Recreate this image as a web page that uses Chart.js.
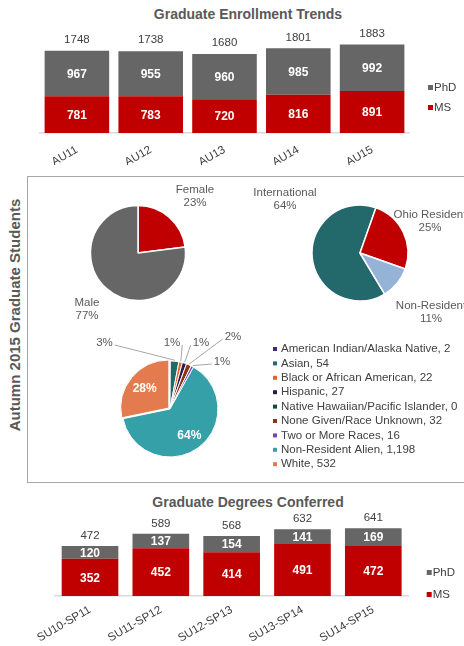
<!DOCTYPE html>
<html>
<head>
<meta charset="utf-8">
<script src="https://cdn.jsdelivr.net/npm/chart.js@4.4.0/dist/chart.umd.min.js"></script>
<style>
  html, body { margin: 0; padding: 0; width: 464px; height: 646px; overflow: hidden; background: #fff; }
  body { position: relative; font-family: "Liberation Sans", Arial, Helvetica, sans-serif; }
  canvas { position: absolute; }
  .title { position: absolute; left: 0; width: 496px; text-align: center; font-weight: bold; font-size: 14px; line-height: 16px; color: #595959; }
  .box { position: absolute; left: 27px; top: 176px; width: 470px; height: 307px; box-sizing: border-box; border: 1px solid #a6a6a6; }
  .vtitle { position: absolute; left: -135px; top: 305px; width: 300px; height: 20px; line-height: 20px; text-align: center;
            font-weight: bold; font-size: 15px; color: #595959; transform: rotate(-90deg); }
</style>
</head>
<body>
<div class="box"></div>
<div class="vtitle">Autumn 2015 Graduate Students</div>
<div class="title" style="top:6px">Graduate Enrollment Trends</div>
<div class="title" style="top:494px">Graduate Degrees Conferred</div>

<canvas id="enroll" width="464" height="165" style="left:0;top:0"></canvas>
<canvas id="gender" width="180" height="180" style="left:48px;top:163px"></canvas>
<canvas id="residency" width="240" height="240" style="left:240px;top:133px"></canvas>
<canvas id="race" width="436" height="150" style="left:28px;top:330px"></canvas>
<canvas id="degrees" width="464" height="166" style="left:0;top:480px"></canvas>

<script>
// Data
const terms = ['AU11', 'AU12', 'AU13', 'AU14', 'AU15'];
const enrollPhD = [967, 955, 960, 985, 992];
const enrollMS = [781, 783, 720, 816, 891];

const years = ['SU10-SP11', 'SU11-SP12', 'SU12-SP13', 'SU13-SP14', 'SU14-SP15'];
const degreesPhD = [120, 137, 154, 141, 169];
const degreesMS = [352, 452, 414, 491, 472];

const genderLabels = ['Female', 'Male'];
const genderPct = [23, 77];

const residencyLabels = ['International', 'Ohio Resident', 'Non-Resident'];
const residencyPct = [64, 25, 11];

const raceLabels = ['American Indian/Alaska Native', 'Asian', 'Black or African American', 'Hispanic',
  'Native Hawaiian/Pacific Islander', 'None Given/Race Unknown', 'Two or More Races',
  'Non-Resident Alien', 'White'];
const raceCounts = [2, 54, 22, 27, 0, 32, 16, 1198, 532];

const FONT = '"Liberation Sans", Arial, Helvetica, sans-serif';
const RED = '#c00000';
const GRAY = '#666666';
const TEXT = '#404040';
Chart.defaults.font.family = FONT;

// Value labels, totals and a small legend for the stacked bars
const stackLabels = {
  id: 'stackLabels',
  afterDatasetsDraw(chart, args, o) {
    const ctx = chart.ctx;
    const sets = chart.data.datasets;
    ctx.save();
    ctx.textAlign = 'center';
    ctx.textBaseline = 'middle';
    ctx.font = 'bold 12px ' + FONT;
    ctx.fillStyle = '#fff';
    sets.forEach((ds, i) => {
      chart.getDatasetMeta(i).data.forEach((bar, j) => {
        ctx.fillText(ds.data[j], bar.x, (bar.y + bar.base) / 2 + 1);
      });
    });
    ctx.font = '11.5px ' + FONT;
    ctx.fillStyle = TEXT;
    chart.getDatasetMeta(sets.length - 1).data.forEach((bar, j) => {
      const total = sets.reduce((s, d) => s + d.data[j], 0);
      ctx.fillText(total, bar.x, bar.y - o.totalGap);
    });
    // legend, top dataset first
    ctx.textAlign = 'left';
    const area = chart.chartArea;
    sets.slice().reverse().forEach((ds, k) => {
      const y = area.top + o.legendY + k * o.legendGap;
      const x = area.right + o.legendX;
      ctx.fillStyle = ds.backgroundColor;
      ctx.fillRect(x, y - 3, 5, 5);
      ctx.fillStyle = TEXT;
      ctx.fillText(ds.label, x + 6, y);
    });
    ctx.restore();
  }
};

function stackedBars(id, labels, ms, phd, cfg) {
  return new Chart(document.getElementById(id), {
    type: 'bar',
    data: {
      labels: labels,
      datasets: [
        { label: 'MS', data: ms, backgroundColor: RED },
        { label: 'PhD', data: phd, backgroundColor: GRAY }
      ]
    },
    options: {
      responsive: false,
      animation: false,
      layout: { padding: cfg.padding },
      datasets: { bar: { barPercentage: cfg.barPct, categoryPercentage: 1 } },
      plugins: {
        legend: { display: false },
        tooltip: { enabled: false },
        stackLabels: cfg.labels
      },
      scales: {
        x: {
          stacked: true,
          grid: { display: false, drawTicks: false },
          border: { display: true, color: '#d9d9d9', width: 1.5 },
          ticks: { color: TEXT, font: { size: 11.5 }, minRotation: 30, maxRotation: 30, autoSkip: false, padding: cfg.tickPad },
          afterFit: s => { s.height = cfg.axisHeight; }
        },
        y: { stacked: true, display: false, min: 0, max: cfg.max }
      }
    },
    plugins: [stackLabels]
  });
}

stackedBars('enroll', terms, enrollMS, enrollPhD, {
  padding: { left: 40, right: 55, top: 39, bottom: 0 },
  barPct: 0.875, axisHeight: 32, tickPad: 10, max: 2000,
  labels: { totalGap: 11, legendX: 19, legendY: 49, legendGap: 20 }
});

stackedBars('degrees', years, degreesMS, degreesPhD, {
  padding: { left: 54.6, right: 55.3, top: 42, bottom: 0 },
  barPct: 0.8, axisHeight: 50, tickPad: 7, max: 700,
  labels: { totalGap: 10, legendX: 18, legendY: 51, legendGap: 22 }
});

// Labels for the pies: outside text with optional leader lines, or inside percentages
const pieLabels = {
  id: 'pieLabels',
  afterDatasetsDraw(chart, args, o) {
    const ctx = chart.ctx;
    const meta = chart.getDatasetMeta(0);
    const data = chart.data.datasets[0].data;
    const total = data.reduce((a, b) => a + b, 0);
    ctx.save();
    ctx.textAlign = 'center';
    ctx.textBaseline = 'middle';
    o.items.forEach(it => {
      const arc = meta.data[it.i];
      const mid = (arc.startAngle + arc.endAngle) / 2;
      const pct = Math.round(data[it.i] / total * 100) + '%';
      if (it.inside) {
        const r = arc.outerRadius * 0.68;
        ctx.font = 'bold 12px ' + FONT;
        ctx.fillStyle = '#fff';
        ctx.fillText(pct, arc.x + Math.cos(mid) * r, arc.y + Math.sin(mid) * r);
        return;
      }
      const lx = arc.x + it.dx, ly = arc.y + it.dy;
      ctx.font = '11.5px ' + FONT;
      ctx.fillStyle = '#595959';
      if (o.withName) {
        ctx.fillText(chart.data.labels[it.i], lx, ly - 6.5);
        ctx.fillText(pct, lx, ly + 6.5);
      } else {
        ctx.fillText(pct, lx, ly);
      }
      if (it.leader) {
        const ax = arc.x + Math.cos(mid) * (arc.outerRadius + 1);
        const ay = arc.y + Math.sin(mid) * (arc.outerRadius + 1);
        const w = ctx.measureText(pct).width;
        let ex, ey;
        if (Math.abs(lx - ax) < 8) { ex = lx; ey = ly + 7; }
        else if (lx < ax) { ex = lx + w / 2 + 2; ey = ly + 2; }
        else { ex = lx - w / 2 - 2; ey = ly + 2; }
        ctx.strokeStyle = '#a6a6a6';
        ctx.lineWidth = 1;
        ctx.beginPath();
        ctx.moveTo(ax, ay);
        ctx.lineTo(ex, ey);
        ctx.stroke();
      }
    });
    if (o.legend) {
      const L = o.legend;
      ctx.textAlign = 'left';
      ctx.font = '11.5px ' + FONT;
      chart.data.labels.forEach((name, i) => {
        const y = L.y + i * L.gap;
        ctx.fillStyle = chart.data.datasets[0].backgroundColor[i];
        ctx.fillRect(L.x, y - 2, 4, 4);
        ctx.fillStyle = TEXT;
        ctx.fillText(name + ', ' + data[i].toLocaleString('en-US'), L.x + 8, y);
      });
    }
    ctx.restore();
  }
};

function pie(id, labels, values, colors, cfg) {
  return new Chart(document.getElementById(id), {
    type: 'pie',
    data: {
      labels: labels,
      datasets: [{ data: values, backgroundColor: colors, borderColor: '#fff', borderWidth: cfg.border, offset: cfg.offset || 0 }]
    },
    options: {
      responsive: false,
      animation: false,
      radius: cfg.radius,
      rotation: cfg.rotation,
      layout: { padding: cfg.padding },
      plugins: { legend: { display: false }, tooltip: { enabled: false }, pieLabels: cfg.labels }
    },
    plugins: [pieLabels]
  });
}

pie('gender', genderLabels, genderPct, [RED, GRAY], {
  radius: 47.5, rotation: 0, border: 1.5, padding: 42,
  labels: { withName: true, items: [{ i: 0, dx: 57, dy: -56.5 }, { i: 1, dx: -51, dy: 56.5 }] }
});

pie('residency', residencyLabels, residencyPct, ['#23686b', RED, '#95b3d7'], {
  radius: 48, rotation: 149, border: 1.5, padding: 72,
  labels: { withName: true, items: [
    { i: 0, dx: -75, dy: -53.5 }, { i: 1, dx: 70, dy: -32 }, { i: 2, dx: 71, dy: 59 }
  ] }
});

pie('race', raceLabels, raceCounts,
  ['#43277f', '#1f6b68', '#e5622a', '#2e1a4f', '#0e4a46', '#8e3413', '#7b3fbf', '#35a0a8', '#e37b4e'], {
  radius: 48, rotation: 0, border: 1, offset: [0, 0, 0, 0, 0, 0, 0, 0, 6],
  padding: { left: 92, right: 244, top: 29, bottom: 21 },
  labels: {
    withName: false,
    items: [
      { i: 1, dx: -65.5, dy: -66, leader: true },
      { i: 2, dx: 2, dy: -66, leader: true },
      { i: 3, dx: 31, dy: -66, leader: true },
      { i: 5, dx: 63, dy: -72, leader: true },
      { i: 6, dx: 52, dy: -47, leader: true },
      { i: 7, inside: true },
      { i: 8, inside: true }
    ],
    legend: { x: 245, y: 19, gap: 14.4 }
  }
});
</script>
</body>
</html>
